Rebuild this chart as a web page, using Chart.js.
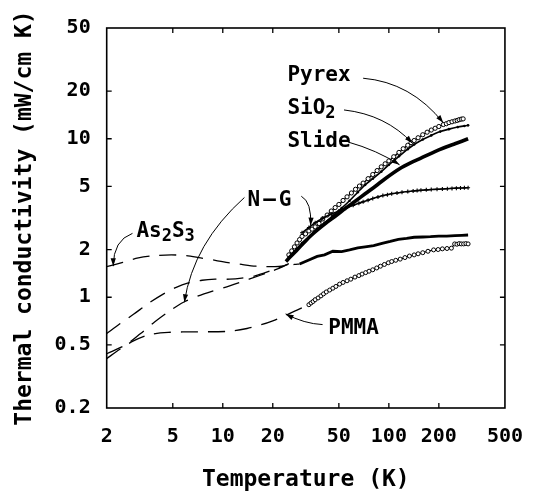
<!DOCTYPE html>
<html>
<head>
<meta charset="utf-8">
<script src="https://cdn.jsdelivr.net/npm/chart.js@4.4.1/dist/chart.umd.min.js"></script>
<style>
  html, body { margin: 0; padding: 0; background: #fff; }
  canvas { display: block; }
</style>
</head>
<body>
<canvas id="chart" width="540" height="493"></canvas>
<script>
// Axis ticks (log-log)
const xTicks = [2, 5, 10, 20, 50, 100, 200, 500];
const yTicks = [0.2, 0.5, 1, 2, 5, 10, 20, 50];

// Measured thermal conductivity (mW/cm K) versus temperature (K)
const pyrexT = [25, 26, 27, 28, 29, 30, 31.5, 33, 34.5, 36, 38, 40, 42.5, 45, 47.5, 50, 53, 56, 59.5, 63, 66.5, 70, 75, 80, 85, 90, 95, 100, 107, 115, 122, 130, 136, 142, 150, 160, 170, 180, 190, 200, 213, 222, 230, 240, 250, 258, 265, 273, 280];
const pyrexK = [1.85, 1.96, 2.08, 2.2, 2.31, 2.42, 2.51, 2.62, 2.69, 2.78, 2.92, 3.12, 3.3, 3.5, 3.68, 3.85, 4.08, 4.3, 4.55, 4.8, 5.03, 5.25, 5.6, 5.95, 6.3, 6.65, 6.95, 7.25, 7.7, 8.2, 8.65, 9.1, 9.45, 9.75, 10.15, 10.6, 11.0, 11.35, 11.65, 11.95, 12.3, 12.45, 12.65, 12.8, 12.95, 13.05, 13.2, 13.3, 13.35];

const sio2T = [25, 27, 30, 33, 37, 41, 46, 52, 58, 65, 72, 80, 90, 100, 115, 130, 142, 160, 180, 204, 230, 260, 285, 300];
const sio2K = [1.78, 1.95, 2.2, 2.4, 2.7, 2.95, 3.27, 3.65, 4.06, 4.6, 5.12, 5.6, 6.2, 6.85, 7.75, 8.6, 9.2, 9.9, 10.5, 11.1, 11.5, 11.85, 12.05, 12.15];

const slideT = [24, 25.5, 28, 31, 34, 37, 42, 48, 55, 63, 72, 83, 95, 116, 135, 156, 180, 200, 223, 250, 275, 300];
const slideK = [1.68, 1.8, 1.99, 2.22, 2.45, 2.65, 2.95, 3.27, 3.65, 4.05, 4.5, 5.02, 5.6, 6.47, 7.05, 7.55, 8.1, 8.5, 8.9, 9.3, 9.65, 10.0];

const ngT = [30, 33, 36, 40, 45, 50, 55, 61, 66, 70, 75, 80, 86, 92, 98, 104, 112, 120, 130, 140, 148, 156, 168, 180, 195, 210, 225, 240, 255, 270, 285, 300];
const ngK = [2.55, 2.75, 2.95, 3.15, 3.35, 3.5, 3.65, 3.8, 3.92, 4.0, 4.1, 4.2, 4.29, 4.38, 4.44, 4.5, 4.55, 4.6, 4.64, 4.68, 4.71, 4.73, 4.76, 4.78, 4.8, 4.82, 4.84, 4.86, 4.88, 4.89, 4.9, 4.91];

const as2s3T = [29, 30.2, 33, 37, 41, 46, 52, 58, 65, 72, 81, 91, 102, 114, 128, 142, 160, 178, 200, 223, 250, 275, 300];
const as2s3K = [1.62, 1.65, 1.72, 1.81, 1.85, 1.95, 1.94, 1.99, 2.05, 2.08, 2.12, 2.19, 2.25, 2.32, 2.35, 2.39, 2.4, 2.41, 2.43, 2.43, 2.45, 2.46, 2.47];

const pmmaT = [33, 34, 35, 36, 37.5, 39, 40.4, 42, 44, 46, 48, 50.5, 53, 56, 59, 62.5, 66, 69, 72.5, 76, 80, 84.5, 89, 94, 99.3, 104, 110, 117, 125, 133, 142, 150, 160, 172, 186, 198, 210, 224, 238, 249, 257, 265, 273, 282, 291, 300];
const pmmaK = [0.897, 0.92, 0.94, 0.965, 0.99, 1.02, 1.05, 1.08, 1.11, 1.14, 1.17, 1.21, 1.24, 1.27, 1.3, 1.34, 1.37, 1.4, 1.43, 1.46, 1.49, 1.53, 1.57, 1.61, 1.65, 1.68, 1.71, 1.74, 1.78, 1.82, 1.85, 1.88, 1.91, 1.95, 1.99, 2.0, 2.02, 2.03, 2.04, 2.17, 2.16, 2.18, 2.17, 2.17, 2.18, 2.17];

// Low-temperature curves (dashed)
const as2s3LowT = [2, 2.5, 3.1, 3.9, 4.9, 6, 7.35, 9, 11, 13, 15.8, 18, 20.6, 24, 27, 29];
const as2s3LowK = [1.56, 1.66, 1.77, 1.83, 1.85, 1.83, 1.77, 1.71, 1.65, 1.61, 1.57, 1.56, 1.56, 1.58, 1.61, 1.62];

const glassLowT = [2, 2.4, 2.9, 3.6, 4.4, 5.2, 6.2, 7.5, 9, 11, 13, 15.5, 18, 21, 25];
const glassLowK = [0.59, 0.68, 0.78, 0.92, 1.05, 1.15, 1.23, 1.28, 1.30, 1.30, 1.32, 1.36, 1.43, 1.51, 1.63];

const ngLowT = [2, 2.6, 3.2, 3.9, 4.8, 5.8, 7.7, 11, 14.4, 19.7, 24.7];
const ngLowK = [0.44, 0.50, 0.59, 0.70, 0.82, 0.93, 1.05, 1.18, 1.30, 1.46, 1.61];

const pmmaLowT = [2, 2.4, 2.9, 3.6, 4.7, 7, 11, 14, 17, 20, 24, 28, 33];
const pmmaLowK = [0.41, 0.47, 0.53, 0.58, 0.60, 0.605, 0.61, 0.635, 0.67, 0.71, 0.77, 0.83, 0.897];

const FAMILY = "'DejaVu Sans Mono', 'Liberation Mono', monospace";
const LABEL_FONT = "bold 21px " + FAMILY;
const SUB_FONT = "bold 17px " + FAMILY;

// Curve labels with their pointer arrows, in data coordinates (T, K)
const notes = [
  { parts: [['Pyrex', false]], at: [24.5, 23.0],
    arrows: [[[70, 24.1], [135.9, 22.7], [212.8, 12.6]]] },
  { parts: [['SiO', false], ['2', true]], at: [24.5, 14.3],
    arrows: [[[53.7, 15.2], [95.7, 14.2], [138.7, 9.37]]] },
  { parts: [['Slide', false]], at: [24.5, 8.89],
    arrows: [[[56.6, 9.55], [84.8, 8.48], [116, 6.85]]] },
  { parts: [['N\u2014G', false]], at: [14.1, 3.78], spacing: 3,
    arrows: [[[13.5, 4.26], [6.65, 2.19], [5.87, 0.93]],
             [[29.7, 4.34], [34.4, 3.99], [33.8, 2.83]]] },
  { parts: [['As', false], ['2', true], ['S', false], ['3', true]], at: [3.02, 2.41],
    arrows: [[[2.86, 2.53], [2.19, 2.29], [2.19, 1.57]]] },
  { parts: [['PMMA', false]], at: [43.2, 0.59],
    arrows: [[[39.9, 0.672], [30.9, 0.681], [23.9, 0.785]]] }
];

const pts = (T, K) => T.map((t, i) => ({ x: t, y: K[i] }));

const dashed = (T, K) => ({
  data: pts(T, K), showLine: true, borderColor: '#000', borderWidth: 1.3,
  borderDash: [17, 10], pointRadius: 0, tension: 0.3, fill: false
});

const datasets = [
  dashed(as2s3LowT, as2s3LowK),
  dashed(glassLowT, glassLowK),
  dashed(ngLowT, ngLowK),
  dashed(pmmaLowT, pmmaLowK),
  { label: 'As2S3', data: pts(as2s3T, as2s3K), showLine: true, borderColor: '#000', borderWidth: 2.8,
    pointRadius: 0, tension: 0 },
  { label: 'PMMA', data: pts(pmmaT, pmmaK), showLine: true, borderColor: '#000', borderWidth: 1.2,
    pointRadius: 2, pointStyle: 'circle', pointBorderWidth: 1, pointBackgroundColor: '#fff',
    pointBorderColor: '#000', tension: 0.2 },
  { label: 'N-G', data: pts(ngT, ngK), showLine: true, borderColor: '#000', borderWidth: 1.6,
    pointRadius: 2, pointStyle: 'cross', pointBorderWidth: 1.1, pointBorderColor: '#000', tension: 0.3 },
  { label: 'Slide', data: pts(slideT, slideK), showLine: true, borderColor: '#000', borderWidth: 3.6,
    pointRadius: 0, tension: 0.3 },
  { label: 'SiO2', data: pts(sio2T, sio2K), showLine: true, borderColor: '#000', borderWidth: 1.6,
    pointRadius: 1.3, pointStyle: 'circle', pointBackgroundColor: '#000', pointBorderWidth: 0, tension: 0.3 },
  { label: 'Pyrex', data: pts(pyrexT, pyrexK), showLine: true, borderColor: '#000', borderWidth: 1.4,
    pointRadius: 2.1, pointStyle: 'circle', pointBorderWidth: 1, pointBackgroundColor: '#fff',
    pointBorderColor: '#000', tension: 0.3 }
];

// Plot frame with inward tick marks on all four sides
const frame = {
  id: 'frame',
  afterDatasetsDraw(chart) {
    const { ctx, chartArea: a, scales: { x, y } } = chart;
    ctx.save();
    ctx.strokeStyle = '#000';
    ctx.lineWidth = 1.6;
    ctx.strokeRect(a.left, a.top, a.right - a.left, a.bottom - a.top);
    ctx.lineWidth = 1.3;
    const len = 5;
    ctx.beginPath();
    xTicks.slice(1, -1).forEach(v => {
      const px = x.getPixelForValue(v);
      ctx.moveTo(px, a.bottom); ctx.lineTo(px, a.bottom - len);
      ctx.moveTo(px, a.top); ctx.lineTo(px, a.top + len);
    });
    yTicks.slice(1, -1).forEach(v => {
      const py = y.getPixelForValue(v);
      ctx.moveTo(a.left, py); ctx.lineTo(a.left + len, py);
      ctx.moveTo(a.right, py); ctx.lineTo(a.right - len, py);
    });
    ctx.stroke();
    ctx.restore();
  }
};

// Curve names and curved pointer arrows
const annotate = {
  id: 'annotate',
  afterDatasetsDraw(chart) {
    const { ctx, scales: { x, y } } = chart;
    const px = p => [x.getPixelForValue(p[0]), y.getPixelForValue(p[1])];
    ctx.save();
    ctx.fillStyle = '#000';
    ctx.strokeStyle = '#000';
    ctx.textAlign = 'left';
    ctx.textBaseline = 'alphabetic';
    notes.forEach(n => {
      let [cx, cy] = px(n.at);
      ctx.letterSpacing = (n.spacing || 0) + 'px';
      n.parts.forEach(([s, sub]) => {
        ctx.font = sub ? SUB_FONT : LABEL_FONT;
        ctx.fillText(s, cx, cy + (sub ? 4 : 0));
        cx += ctx.measureText(s).width;
      });
      ctx.letterSpacing = '0px';
      n.arrows.forEach(arr => {
        const [p0, c, p2] = arr.map(px);
        ctx.lineWidth = 1;
        ctx.beginPath();
        ctx.moveTo(p0[0], p0[1]);
        ctx.quadraticCurveTo(c[0], c[1], p2[0], p2[1]);
        ctx.stroke();
        const ang = Math.atan2(p2[1] - c[1], p2[0] - c[0]);
        const L = 8, W = 2.6;
        ctx.beginPath();
        ctx.moveTo(p2[0], p2[1]);
        ctx.lineTo(p2[0] - L * Math.cos(ang) + W * Math.sin(ang), p2[1] - L * Math.sin(ang) - W * Math.cos(ang));
        ctx.lineTo(p2[0] - L * Math.cos(ang) - W * Math.sin(ang), p2[1] - L * Math.sin(ang) + W * Math.cos(ang));
        ctx.closePath();
        ctx.fill();
      });
    });
    ctx.restore();
  }
};

const tickFont = { family: FAMILY, size: 20, weight: 'bold' };
const titleFont = { family: FAMILY, size: 23, weight: 'bold', lineHeight: 1 };

new Chart(document.getElementById('chart'), {
  type: 'scatter',
  data: { datasets },
  options: {
    responsive: false,
    animation: false,
    devicePixelRatio: 1,
    layout: { padding: { left: 0, right: 23, top: 20.5, bottom: 0 } },
    plugins: { legend: { display: false }, tooltip: { enabled: false } },
    scales: {
      x: {
        type: 'logarithmic', min: 2, max: 500,
        grid: { display: false, drawTicks: false },
        border: { display: false },
        ticks: { font: tickFont, color: '#000', padding: 17, maxRotation: 0, autoSkip: false,
                 callback: v => String(v) },
        title: { display: true, text: 'Temperature (K)', font: titleFont, color: '#000',
                 padding: { top: 0, bottom: 1 } },
        afterBuildTicks: s => { s.ticks = xTicks.map(v => ({ value: v })); },
        afterFit: s => { s.height = 85; }
      },
      y: {
        type: 'logarithmic', min: 0.2, max: 50,
        grid: { display: false, drawTicks: false },
        border: { display: false },
        ticks: { font: tickFont, color: '#000', padding: 16, autoSkip: false,
                 callback: v => String(v) },
        title: { display: true, text: 'Thermal conductivity (mW/cm K)', font: titleFont, color: '#000',
                 padding: { top: 13.5, bottom: 0 } },
        afterBuildTicks: s => { s.ticks = yTicks.map(v => ({ value: v })); },
        afterFit: s => { s.width = 106.7; }
      }
    }
  },
  plugins: [frame, annotate]
});
</script>
</body>
</html>
